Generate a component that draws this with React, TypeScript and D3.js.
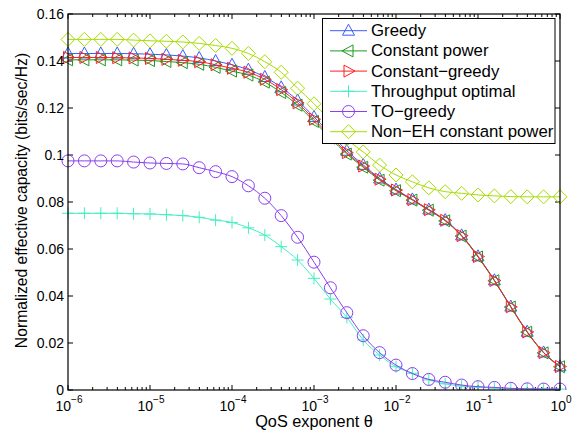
import React from "react";
import * as d3 from "d3";

// QoS exponent theta, 5 points per decade from 1e-6 to 1
const theta = [
  1e-6, 1.585e-6, 2.512e-6, 3.981e-6, 6.31e-6,
  1e-5, 1.585e-5, 2.512e-5, 3.981e-5, 6.31e-5,
  1e-4, 1.585e-4, 2.512e-4, 3.981e-4, 6.31e-4,
  1e-3, 1.585e-3, 2.512e-3, 3.981e-3, 6.31e-3,
  1e-2, 1.585e-2, 2.512e-2, 3.981e-2, 6.31e-2,
  1e-1, 1.585e-1, 2.512e-1, 3.981e-1, 6.31e-1,
  1,
];

const greedy = [
  0.1432, 0.1432, 0.1432, 0.1432, 0.1431, 0.1429, 0.1426, 0.1421, 0.1413, 0.14,
  0.1384, 0.1363, 0.1332, 0.1288, 0.1232, 0.1162, 0.109, 0.1018, 0.0958, 0.09,
  0.0853, 0.0811, 0.0768, 0.0723, 0.0658, 0.0569, 0.0467, 0.0355, 0.0248, 0.016,
  0.0101,
];
const constantPower = [
  0.1405, 0.1405, 0.1405, 0.1405, 0.1404, 0.1402, 0.1398, 0.1393, 0.1386, 0.1373,
  0.1357, 0.134, 0.131, 0.1266, 0.1212, 0.1143, 0.1072, 0.1004, 0.0948, 0.0893,
  0.0848, 0.0808, 0.0765, 0.072, 0.0655, 0.0566, 0.0465, 0.0353, 0.0246, 0.0158,
  0.0099,
];
const constantGreedy = [
  0.1415, 0.1415, 0.1415, 0.1414, 0.1413, 0.1411, 0.1407, 0.1403, 0.1397, 0.1384,
  0.1369, 0.1352, 0.1322, 0.1278, 0.1222, 0.1152, 0.108, 0.101, 0.0953, 0.0897,
  0.0851, 0.081, 0.0767, 0.0722, 0.0657, 0.0568, 0.0466, 0.0354, 0.0247, 0.0159,
  0.01,
];
const throughputOptimal = [
  0.0752, 0.0752, 0.0752, 0.0752, 0.075, 0.0749, 0.0746, 0.0742, 0.0735, 0.0723,
  0.0713, 0.069, 0.0659, 0.061, 0.0553, 0.0475, 0.0387, 0.0309, 0.0213, 0.0149,
  0.0099, 0.0071, 0.0043, 0.0026, 0.0017, 0.0012, 0.0008, 0.0006, 0.0005, 0.0004,
  0.0004,
];
const toGreedy = [
  0.0975, 0.0975, 0.0975, 0.0975, 0.097, 0.0966, 0.0964, 0.0962, 0.0946, 0.0929,
  0.0908, 0.0869, 0.0816, 0.0742, 0.065, 0.0544, 0.0435, 0.0329, 0.0231, 0.0159,
  0.0106, 0.007, 0.0045, 0.0033, 0.0021, 0.0014, 0.0011, 0.0007, 0.0005, 0.0004,
  0.0004,
];
const nonEH = [
  0.1492, 0.1492, 0.1492, 0.1492, 0.1489, 0.1486, 0.1484, 0.1481, 0.1475, 0.1466,
  0.1454, 0.1432, 0.1397, 0.1352, 0.1284, 0.1218, 0.1145, 0.1068, 0.1013, 0.0957,
  0.0915, 0.0886, 0.086, 0.0844, 0.0837, 0.083, 0.0826, 0.0823, 0.0822, 0.0822,
  0.0822,
];

const yTicks = [0, 0.02, 0.04, 0.06, 0.08, 0.1, 0.12, 0.14, 0.16];
const yTickLabels = ["0", "0.02", "0.04", "0.06", "0.08", "0.1", "0.12", "0.14", "0.16"];
const xDecades = [-6, -5, -4, -3, -2, -1, 0];

const series = [
  { name: "Greedy", values: greedy, color: "#3a5cff", marker: "up" },
  { name: "Constant power", values: constantPower, color: "#1e9a1e", marker: "left" },
  { name: "Constant\u2212greedy", values: constantGreedy, color: "#ff1f1f", marker: "right" },
  { name: "Throughput optimal", values: throughputOptimal, color: "#44eec4", marker: "plus" },
  { name: "TO\u2212greedy", values: toGreedy, color: "#8a3ff0", marker: "circle" },
  { name: "Non\u2212EH constant power", values: nonEH, color: "#a6dc00", marker: "diamond" },
];

const W = 578;
const H = 432;
const M = { left: 68, right: 560, top: 14, bottom: 390 };
const FONT = "'Liberation Sans', Arial, Helvetica, sans-serif";

function Marker({ kind, x, y, color }: { kind: string; x: number; y: number; color: string }) {
  const common = { fill: "none", stroke: color, strokeWidth: 1 };
  switch (kind) {
    case "up":
      return <polygon {...common} points={`${x},${y - 6.5} ${x + 6},${y + 4.5} ${x - 6},${y + 4.5}`} />;
    case "left":
      return <polygon {...common} points={`${x - 6.5},${y} ${x + 4.5},${y - 6} ${x + 4.5},${y + 6}`} />;
    case "right":
      return <polygon {...common} points={`${x + 6.5},${y} ${x - 4.5},${y - 6} ${x - 4.5},${y + 6}`} />;
    case "plus":
      return <path {...common} d={`M${x - 6},${y}H${x + 6}M${x},${y - 6}V${y + 6}`} />;
    case "circle":
      return <circle {...common} cx={x} cy={y} r={6} />;
    default:
      return <polygon {...common} points={`${x},${y - 7} ${x + 7},${y} ${x},${y + 7} ${x - 7},${y}`} />;
  }
}

export default function App() {
  const x = d3.scaleLog().domain([1e-6, 1]).range([M.left, M.right]);
  const y = d3.scaleLinear().domain([0, 0.16]).range([M.bottom, M.top]);

  const line = d3
    .line<number>()
    .x((_, i) => x(theta[i]))
    .y((d) => y(d))
    .curve(d3.curveMonotoneX);

  const minorTicks = x.ticks().filter((t) => {
    const l = Math.log10(t);
    return Math.abs(l - Math.round(l)) > 1e-6;
  });

  const legend = { x: 322.5, y: 18.5, w: 232.5, h: 125, row: 20.2 };

  return (
    <svg width={W} height={H} style={{ position: "absolute", left: 0, top: 0 }} fontFamily={FONT}>
      <rect width={W} height={H} fill="#fff" />
      <clipPath id="plot">
        <rect x={M.left - 8} y={M.top - 8} width={M.right - M.left + 16} height={M.bottom - M.top + 8} />
      </clipPath>

      {/* ticks */}
      <g stroke="#000" strokeWidth={1}>
        {yTicks.map((t) => (
          <g key={"y" + t}>
            <line x1={M.left} x2={M.left + 5} y1={y(t)} y2={y(t)} />
            <line x1={M.right} x2={M.right - 5} y1={y(t)} y2={y(t)} />
          </g>
        ))}
        {xDecades.map((e) => (
          <g key={"xd" + e}>
            <line x1={x(10 ** e)} x2={x(10 ** e)} y1={M.bottom} y2={M.bottom - 5} />
            <line x1={x(10 ** e)} x2={x(10 ** e)} y1={M.top} y2={M.top + 5} />
          </g>
        ))}
        {minorTicks.map((t, i) => (
          <g key={"xm" + i}>
            <line x1={x(t)} x2={x(t)} y1={M.bottom} y2={M.bottom - 3} />
            <line x1={x(t)} x2={x(t)} y1={M.top} y2={M.top + 3} />
          </g>
        ))}
      </g>

      {/* series */}
      <g clipPath="url(#plot)">
        {series.map((s) => (
          <g key={s.name}>
            <path d={line(s.values) || ""} fill="none" stroke={s.color} strokeWidth={1} />
            {s.values.map((v, i) => (
              <Marker key={i} kind={s.marker} x={x(theta[i])} y={y(v)} color={s.color} />
            ))}
          </g>
        ))}
      </g>

      {/* frame */}
      <rect
        x={M.left}
        y={M.top}
        width={M.right - M.left}
        height={M.bottom - M.top}
        fill="none"
        stroke="#000"
        strokeWidth={1.2}
      />

      {/* y tick labels */}
      <g fontSize={14} textAnchor="end" fill="#000">
        {yTicks.map((t, i) => (
          <text key={t} x={M.left - 4} y={y(t) + 5}>
            {yTickLabels[i]}
          </text>
        ))}
      </g>

      {/* x tick labels */}
      <g fontSize={14} textAnchor="middle" fill="#000">
        {xDecades.map((e) => (
          <text key={e} x={x(10 ** e) + 1} y={410.5}>
            10
            <tspan fontSize={10} dy={-8}>
              {e === 0 ? "0" : "\u2212" + Math.abs(e)}
            </tspan>
          </text>
        ))}
      </g>

      {/* axis labels */}
      <text x={(M.left + M.right) / 2} y={427} fontSize={16.3} textAnchor="middle">
        QoS exponent θ
      </text>
      <text transform={`translate(27,200.5) rotate(-90)`} fontSize={15.7} textAnchor="middle">
        Normalized effective capacity (bits/sec/Hz)
      </text>

      {/* legend */}
      <g>
        <rect x={legend.x} y={legend.y} width={legend.w} height={legend.h} fill="#fff" stroke="#000" strokeWidth={1} />
        {series.map((s, i) => {
          const cy = legend.y + 12.2 + i * legend.row;
          return (
            <g key={s.name}>
              <line x1={330} x2={367} y1={cy} y2={cy} stroke={s.color} strokeWidth={1} />
              <Marker kind={s.marker} x={348.5} y={cy} color={s.color} />
              <text x={371} y={cy + 5.5} fontSize={16.8}>
                {s.name}
              </text>
            </g>
          );
        })}
      </g>
    </svg>
  );
}
